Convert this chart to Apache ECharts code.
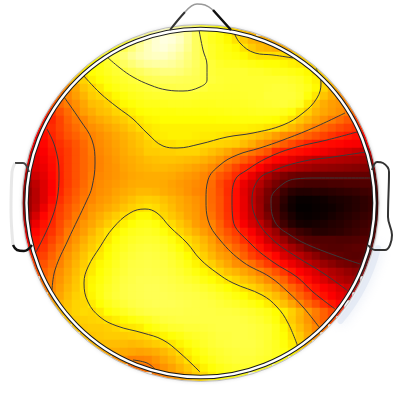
<!DOCTYPE html>
<html>
<head>
<meta charset="utf-8">
<title>topomap</title>
<style>html,body{margin:0;background:#fff}#main{width:400px;height:400px}</style>
<script src="https://cdn.jsdelivr.net/npm/echarts@6/dist/echarts.min.js"></script>
</head>
<body>
<div id="main"></div>
<script>
// scalp potential, 0 = black, 100 = white. one array per row, 8px cells
var xCats = [20,28,36,44,52,60,68,76,84,92,100,108,116,124,132,140,148,156,164,172,180,188,196,204,212,220,228,236,244,252,260,268,276,284,292,300,308,316,324,332,340,348,356,364,372,380];
var yCats = [24,32,40,48,56,64,72,80,88,96,104,112,120,128,136,144,152,160,168,176,184,192,200,208,216,224,232,240,248,256,264,272,280,288,296,304,312,320,328,336,344,352,360,368,376,384];
// first column of each row, the cells outside the head are left out
var firstX = [172,148,124,108,92,84,76,68,60,52,44,44,36,36,28,28,28,20,20,20,20,20,20,20,20,20,20,20,20,28,28,36,44,44,52,52,60,68,76,84,92,100,116,132,156,180];

var row24 = [85,85,84,79,74,71,68,65];
var row32 = [85,88,92,92,90,86,79,74,72,69,65,61,59,57];
var row40 = [72,78,84,90,94,96,95,92,86,79,74,71,69,66,63,60,57,56,56,56];
var row48 = [68,72,77,82,87,91,94,95,93,90,85,79,75,72,70,68,66,63,60,58,57,56,56,56];
var row56 = [68,72,75,78,82,86,89,91,92,92,90,87,83,79,75,72,70,69,68,66,64,63,63,62.5,62,61.5,60,58];
var row64 = [63,66,69,72,75,79,82,85,87,88,88,87,85,82,79,76,74,72,71,71,70,69,68,67,67,66,65,64,62,60];
var row72 = [60,64,67,69,71,73,74.5,77,79,81,82,83,83,82,80,78,76,74,73,73,73,73,72,72,71,70,70,69,68,66,63,60];
var row80 = [57,60,61,65,67,69,71,72.5,74,75,77,78,78.5,78.5,78,77.5,77,75.5,74.5,73.5,73,73,73,73,73,73,73,73,72,71,68,65,61,58];
var row88 = [49,52,55,59,61,64,67,69,71,72,73,74,75,75.5,76,76.5,76.5,76,74.5,73,73,72.5,72.5,73,73,73,73.5,74,74,73.5,72,70,66,61.5,57,54];
var row96 = [45,48,51,54,57,60,61.5,63.5,66,68,70,71,72,72.5,73,73,73,73,72.5,72,72,72,72,72,72.5,73,73,74,74,74,74,72.5,68,63.5,59,56,52,50];
var row104 = [41,44,47,49.5,52,55,58,59,60.5,63.5,66,67.5,69,70,70,70.5,71,71,71,70.5,70.5,70.5,71,71,71,71.5,72,72.5,73,73.5,74,73,71,64,59,56,54,53,51];
var row112 = [38,40,44,47.5,51,54,56,58,59,61,62.5,65,66.5,67.5,68,68,68,68.5,68.5,68.5,68.5,69,69,69.5,70,70,70.5,71,71,71,70,68,63.5,60.5,57,55,53.5,52,49.5,47];
var row120 = [34,36,38,42,46,49,51,54,55.5,57,58.5,60,62,64,65.5,66,66.5,66.5,66.5,66.5,66.5,66.5,66.5,67,67,67.5,68,68,68,67.5,66.5,65,62.5,59.5,57,54.5,52,49.5,47.5,45,42,40];
var row128 = [35,37,39,42,45,47.5,50,52,53.5,55,56.5,58,60,62,63.5,64.5,65,65,65,65,65,65,65,65,65,65,65,64.5,64,63,62,60,57.5,55,52,49.5,47,45,43,41.5,40,39,38];
var row136 = [31,33,35,38,41,44,46,48.5,50.5,52,53.5,55,56.5,58,59.5,62,64,64.5,65,65,65,64.5,64,64,63.5,62.5,61.5,60.5,59.5,58,56.5,54,51.5,50,48,46,44,42,40,38,36.5,35,34,33];
var row144 = [30,32,34,37,39.5,42,44.5,47,50,51.5,53,54.5,56,57.5,59,60.5,61.5,62.8,62.8,63.5,63,62.7,62,61.5,61,60.5,60,58,56,53,50.8,48,45.5,43,40.5,38,36.5,35,34.5,34,33,32.5,32,31];
var row152 = [29,31,33,36,38.5,41,44,46.5,49.5,51,52.5,54,55.5,57,58,60,60,60.5,60.5,61,61,61,60,58.5,57,55,52.5,50.8,48.5,46.5,44,39,37.3,36,35,34,33,31.5,30,28.5,27.5,26,25,25];
var row160 = [27,29,30,32,35,38,41,44,46.5,49,50.5,52,53.5,55,56,57,58,58.5,59,59,58.5,58,57.5,56.5,55,53,50,48,45.5,42.5,38.5,36,34,32,29.5,27.5,26,24.8,24,23.5,23,22.5,22,21,21,20];
var row168 = [25,27,29,31,34.5,37.8,41,44,46.5,49,50.5,52,53,54.5,55.5,56.5,57,57.5,57.5,57,56.5,55.5,54.5,53.5,51.5,49,46,42.5,38.8,37,33.5,30,27,24.8,23.5,22,21,20,19.5,19,18.5,18,17.5,17,16.5,16];
var row176 = [22,24,27,30,34,37.5,41,44,46.5,49.5,51,52,53,54,55,55.5,56,56,56,55.5,54.5,53.5,52.5,51,48.5,45,42.5,39,35,31,27,22.5,19,16.5,14.5,13.5,13.2,13,13,13,13,13,13,13,13,13];
var row184 = [19,21,25,29,33.5,37.5,41,44,47,50,51.5,52.5,53.5,54.5,55.5,56,56,56,55.5,54.5,53.5,52.5,51.5,50.5,47.5,43,39.5,36,31,27,23.5,19,15.5,12.8,10.5,9.5,9,9,9,9.5,9.5,10,10,10.5,10.5,10.5];
var row192 = [17,19,24,29,33.5,38,42,45,48,50.5,52,53,54.5,55.5,56.5,57.5,57.5,57,56,55,54,52.5,51,50,47,43.5,39,35,30,25.5,21,16,12.5,8,5.5,4.5,4.5,5,5,5.5,6,6.5,7,8,8.5,8.5];
var row200 = [17,20,24,29,34.5,39.5,43,46,49,51,53,54,55.5,57,58.5,60,60.5,60,58.5,57,55.5,54,52.5,51,47,44,39.5,35,30.5,25,20,15,10.5,6,2.5,1,1,1.5,2,3,3.5,4,5,6,7,7];
var row208 = [17,20,25,31,36.5,41,44.5,47.5,50.5,52.5,54,55.5,57,59,60.5,62,63,62,60,58,56,54.5,53,51,47.5,44,39.5,35,30.5,25.5,20.5,14,10,5,2,0.5,0.5,1,1.5,2,3,4,5,6,7,7];
var row216 = [19,22,28,34,37.5,42,45,49,51,54,56,58,60,62,64,66,66,64,61.5,59.5,57.5,55,53.5,51,48.5,44.5,40,35.5,31,26,21,16,11,6.5,3.5,1.5,1,1.5,2,3,4,5,6,7,8,8];
var row224 = [22,25,31,35.5,38.5,43,47,50,53,55,57.5,60,62.8,65,67,69,69.5,68,65,62,59.5,57,54,52,50.5,46,41,37.5,32.5,28,25,19.5,13,8.5,5,3,2.5,3,3.5,4.5,5,6,7,8,9,9];
var row232 = [26,29,34,37,40,44,49,51.5,54,57,60,63,65.5,68,70,71,71.5,70.5,68,65,61.5,59,56.5,54,51.5,47.5,44,41,36.5,32.5,28,24,20,13.5,10.5,8,6.5,5,5,5.5,6,7,8,9,10,11];
var row240 = [30,32,36,38.5,42,46,50,53,56,59,61,64,67.5,70,71.5,72.5,73,72.5,71,68.5,65,62,59.5,57,54,50,46.5,43.5,39.5,35.5,32,27,23.5,20,15,12.5,11,10.5,10.5,10.5,10,10,10.5,11,11,11];
var row248 = [33,35,37,40,44,48,51.5,54.5,57.5,60,62.8,66,69,71,73,74,74.5,74,73,70.5,67.5,64,61,58.5,55.5,52.5,50,46.5,43.5,39,35.5,31.5,28,25,21.5,18,14.5,12.5,11.5,11,11,11.5,12,12,12.5,12.5];
var row256 = [38,40,42,46,49.5,53,56,59,62,64,67,70,72.5,74,75,75.5,75,74,72.5,70,66.5,63.5,60.5,57.5,54.5,53,50,46,42,39,37,34,28.5,26,24,21,18,15,13.8,12.6,11.8,11.5,11.5,11.5];
var row264 = [40,42,44,47.5,50.5,54,57,60,63.5,66,68.5,71,73.5,75,75.5,76,75.5,75,73.5,71.5,69,65.5,63,60.5,57.5,55,52,51,48,44.5,41,37.5,34.5,31,28,25,22.5,20,18,16,15,14,13,13];
var row272 = [44,46,49,52,55,58,61,64,67,69.5,72,74,75.5,76,76.5,76,75.5,74.5,73,71,68.5,66,64,61,58.5,57,55,53,50.3,47.5,44,40.5,36.5,33.5,31,28.5,25,23,21.5,19.5,18,17];
var row280 = [48,50,53,56,59,62.5,65.5,68,70.5,73,75,76,77,77,77,76.5,75.5,74.5,73,71.5,69,67,65,63,61,59,57,54.5,51.5,49,46,40.5,37.5,34.5,31,28.5,25.5,23.5,22,21];
var row288 = [49,51,54,57,59.5,62.5,66,69,71.5,73.5,75.5,76.5,77,77.5,77.5,77,76.5,75.5,75,74,72.5,71,69,67,65,62.7,61,59,56.5,53.5,50,46.5,43,38,35.5,33,31,28.5,26.5,24];
var row296 = [52,55,58,60.5,62,65.5,69,72,74,75.5,76.5,77,77.5,77.5,77.5,77,76.5,76,75.5,74.5,73.5,72,70.5,68.5,66.5,64.5,63,60.5,58,55,50,46.5,43,38,35.5,33,30.5,28];
var row304 = [55,57,59,61,61.5,64,67,70,72,74,75.5,76.5,77,77.5,77.5,77.5,77,76.5,76,75.5,75,74,73,72,70.5,69,67,64.5,61.5,58.5,55,51,47,43.5,39.5,36.5,34];
var row312 = [58,59.5,61,62,61.5,64,67,69,71,73,74.5,75.5,76,76.5,76.5,76.5,76,76,75.5,75.5,75,75,74.5,73.5,72.5,71,69.5,66.5,64,60.5,57,53,49.5,46,42.5,39,36];
var row320 = [59,60,60.5,61,61.5,63,64.5,66,68,69.5,71,73,74.5,75,75.5,75.5,75.5,75.5,75.5,75.5,75.5,75.5,75,74,73,71,68,63.5,60,56.5,53,49,46,43];
var row328 = [59,59.5,60,60,60.5,61.5,63,63.5,64.5,67,69,71,72.5,73,74,74,74.5,75,75.5,75.5,75.5,75.5,75,74,73,70,66,61.5,58,54.5,51,48];
var row336 = [58.5,59,59.5,60,60,60,60.5,61,62,64,65.5,67.5,69,71,72,73,74,75,75,75.5,75.5,75,74,73,70,67,63,60,55.5,52];
var row344 = [57.5,58,58,58,58,57.5,58,59,60,61.5,63.5,65.5,68,70,72,73.5,74.5,75,75.5,75.5,75.5,74.5,73,71,68,64.5,61,57];
var row352 = [55,55.5,56,55.5,55,54.5,55,56,57.5,59.5,62,65,67.5,70,72,73,74,74.5,75,75,74,73,71,69,66,62];
var row360 = [52,52,50,50.5,51,53,55,57,59.5,62.5,65.5,68,70,72,73,74,74,74,73,72,70,68];
var row368 = [47,47.5,48.5,50.5,52.5,54.5,57,59.5,62,65,67.5,69.5,71,72,72.5,72.5,72,71];
var row376 = [49,50,52,54,57,60,62,65,67,69,70,71];
var row384 = [54,57,60,62,65,67];

var heatRows = [row24,row32,row40,row48,row56,row64,row72,row80,row88,row96,row104,row112,row120,row128,row136,row144,row152,row160,row168,row176,row184,row192,row200,row208,row216,row224,row232,row240,row248,row256,row264,row272,row280,row288,row296,row304,row312,row320,row328,row336,row344,row352,row360,row368,row376,row384];

// contour lines, picture coordinates
var topInner = [[107,57],[120,68],[133,77],[150,85],[167,90],[183,91],[200,87],[207,80],[207,65],[203,50],[199,30]];
var topOuter = [[83,75],[100,93],[117,107],[133,119],[147,133],[163,146],[177,148],[200,144],[227,137],[253,133],[283,125],[303,113],[317,98],[321,83],[319,75],[316,68]];
var topRight = [[233,30],[240,43],[255,53],[273,55],[293,58]];
var bottomE = [[298,347],[288,323],[277,307],[262,295],[233,283],[217,273],[200,259],[187,243],[170,227],[157,213],[145,209],[130,213],[113,228],[100,247],[88,267],[84,283],[88,302],[100,317],[117,326],[143,333],[163,340],[180,353],[200,372]];
var bottomSmall = [[133,360],[147,363],[155,369]];
var rightD = [[345,113],[313,128],[283,140],[260,148],[237,155],[220,165],[208,180],[206,200],[208,220],[220,240],[243,262],[270,277],[288,292],[303,307],[319,327]];
var rightC = [[357,132],[327,140],[293,148],[267,158],[247,170],[235,180],[232,200],[233,220],[250,243],[273,262],[297,277],[313,292],[335,309]];
var rightB = [[366,152],[333,157],[300,162],[270,172],[258,180],[252,200],[257,220],[273,240],[297,257],[323,273],[348,291]];
var rightA = [[370,178],[317,178],[295,179],[278,188],[271,200],[275,222],[290,235],[313,247],[360,264]];
var leftC = [[47,129],[55,147],[59,173],[57,200],[50,223],[36,252]];
var leftD = [[64,97],[80,120],[92,140],[95,163],[92,187],[87,200],[68,240],[55,270],[52,290]];
var contours = [topInner,topOuter,topRight,bottomE,bottomSmall,rightD,rightC,rightB,rightA,leftC,leftD];

// head outline
var noseLeft = [[170,30],[178,20],[185,12]];
var noseTop = [[185,12],[197,4],[205,5],[213,10]];
var noseRight = [[213,10],[222,20],[231,30]];
var earLeftTop = [[29,172],[23,163],[15,163]];
var earLeftSide = [[15,163],[12,172],[11,210],[13,245]];
var earLeftLow = [[13,245],[17,250],[24,251],[32,245]];
var earRight = [[372,170],[377,162],[383,163],[389,172],[388,217],[392,235],[385,250],[375,250],[368,245]];

var heatData = [];
heatRows.forEach(function (row, j) {
	var first = xCats.indexOf(firstX[j]);
	row.forEach(function (v, i) {
		heatData.push([first + i, j, v]);
	});
});

function outline(points, color, width) {
	return {
		type: 'line', xAxisIndex: 1, yAxisIndex: 1, data: points, smooth: 0.4, showSymbol: false, silent: true, z: 70,
		lineStyle: { color: color, width: width }
	};
}

var series = [{
	type: 'heatmap', xAxisIndex: 0, yAxisIndex: 0, data: heatData, silent: true, progressive: 0,
	itemStyle: { borderWidth: 0 }, emphasis: { disabled: true }
}];
contours.forEach(function (c) {
	series.push({
		type: 'line', xAxisIndex: 1, yAxisIndex: 1, data: c, smooth: 0.4, showSymbol: false, silent: true, z: 5,
		lineStyle: { color: '#3a3a3a', width: 1 }
	});
});
series.push(outline(noseLeft, '#333', 2));
series.push(outline(noseTop, '#999', 1.5));
series.push(outline(noseRight, '#111', 2.5));
series.push(outline(earLeftTop, '#444', 2));
series.push(outline(earLeftSide, 'rgba(190,190,190,0.35)', 3));
series.push(outline(earLeftLow, '#111', 2.5));
series.push(outline(earRight, '#333', 2));

var cx = 200.5, cy = 203;
var chart = echarts.init(document.getElementById('main'), null, { renderer: 'canvas' });
chart.setOption({
	animation: false,
	backgroundColor: '#fff',
	grid: [
		{ left: 16, top: 20, width: 368, height: 368 },
		{ left: 0, top: 0, width: 400, height: 400 }
	],
	xAxis: [
		{ type: 'category', gridIndex: 0, data: xCats, show: false },
		{ type: 'value', gridIndex: 1, min: 0, max: 400, show: false }
	],
	yAxis: [
		{ type: 'category', gridIndex: 0, data: yCats, inverse: true, show: false },
		{ type: 'value', gridIndex: 1, min: 0, max: 400, inverse: true, show: false }
	],
	visualMap: {
		show: false, min: 0, max: 100, dimension: 2, seriesIndex: 0,
		inRange: { color: ['#000000', '#ff0000', '#ffff00', '#ffffff'] }
	},
	graphic: [
		// white outside the head, then its shadow and the ring
		{ type: 'circle', silent: true, z: 50, shape: { cx: cx, cy: cy, r: 278 }, style: { fill: 'none', stroke: '#fff', lineWidth: 200 } },
		{ type: 'circle', silent: true, z: 51, shape: { cx: cx, cy: cy, r: 178.5 }, style: { fill: 'none', stroke: 'rgba(150,150,150,0.55)', lineWidth: 1, shadowBlur: 3, shadowColor: 'rgba(120,120,120,0.7)' } },
		{ type: 'arc', silent: true, z: 52, shape: { cx: cx, cy: cy, r: 183, startAngle: 0.25, endAngle: 0.7 }, style: { fill: 'none', stroke: 'rgba(215,224,240,0.5)', lineWidth: 6, lineCap: 'round', shadowBlur: 12, shadowColor: 'rgba(190,205,230,0.9)' } },
		{ type: 'circle', silent: true, z: 60, shape: { cx: cx, cy: cy, r: 174 }, style: { fill: 'none', stroke: '#1c1c1c', lineWidth: 4.5 } },
		{ type: 'circle', silent: true, z: 61, shape: { cx: cx, cy: cy, r: 174 }, style: { fill: 'none', stroke: '#fff', lineWidth: 2.4 } }
	],
	series: series
});
</script>
</body>
</html>
